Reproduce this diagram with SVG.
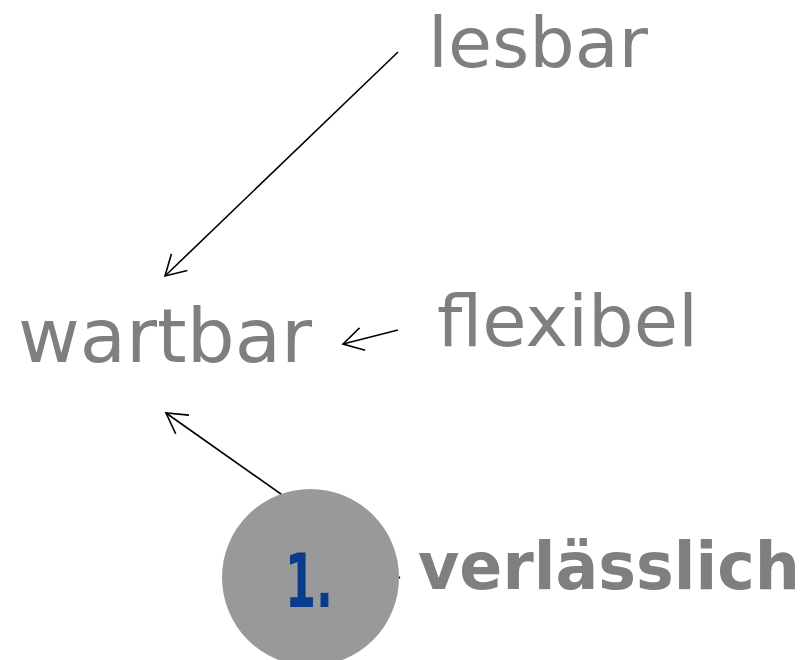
<svg xmlns="http://www.w3.org/2000/svg" width="810" height="660" viewBox="0 0 810 660">
<defs>
<style>
.lbl{font-family:"DejaVu Sans","Liberation Sans",sans-serif;fill:#7f7f7f}
.edge{stroke:#000;stroke-width:1.6;fill:none}
</style>
<marker id="ah" markerWidth="30" markerHeight="30" refX="22" refY="12" orient="auto" markerUnits="userSpaceOnUse" viewBox="0 0 30 24">
<polyline points="2,0.5 22,12 2,23.5" fill="none" stroke="#000" stroke-width="1.6"/>
</marker>
</defs>
<rect width="810" height="660" fill="#fff"/>
<g id="connectors">
<line class="edge" x1="398" y1="52" x2="165" y2="276" marker-end="url(#ah)"/>
<line class="edge" x1="398" y1="330" x2="343" y2="344" marker-end="url(#ah)"/>
<line class="edge" x1="400" y1="578" x2="166" y2="413" marker-end="url(#ah)"/>
</g>
<g id="lesbar"><text class="lbl" x="428" y="67" font-size="70" textLength="220" lengthAdjust="spacingAndGlyphs">lesbar</text></g>
<g id="wartbar"><text class="lbl" x="18" y="362" font-size="75" textLength="294" lengthAdjust="spacingAndGlyphs">wartbar</text></g>
<g id="flexibel"><text class="lbl" x="437" y="346" font-size="71" textLength="261" lengthAdjust="spacingAndGlyphs">flexibel</text></g>
<g id="verlaesslich"><text class="lbl" x="418" y="589" font-size="65" font-weight="bold" textLength="382" lengthAdjust="spacingAndGlyphs">verlässlich</text></g>
<g id="step1">
<circle cx="310.5" cy="577.5" r="88.5" fill="#999999"/>
<text x="285" y="607" font-family="DejaVu Sans,'Liberation Sans',sans-serif" font-size="74" font-weight="bold" fill="#0a3b8c" textLength="48" lengthAdjust="spacingAndGlyphs">1.</text>
</g>
</svg>
